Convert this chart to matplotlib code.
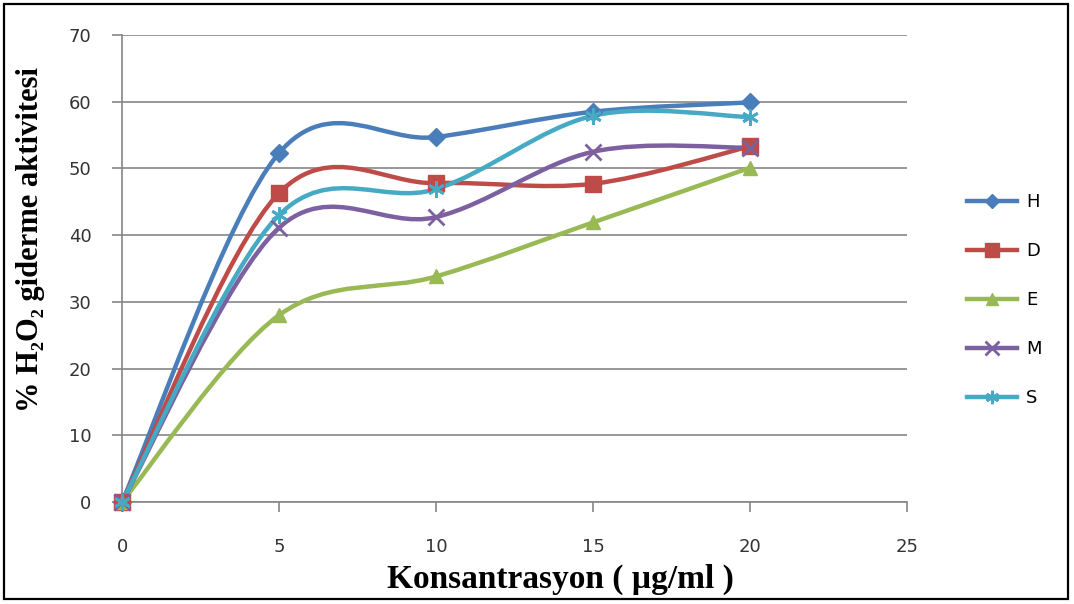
import numpy as np
import matplotlib.pyplot as plt
from matplotlib.path import Path
from matplotlib.patches import PathPatch, Rectangle
from matplotlib.lines import Line2D

# concentration (ug/ml) and % H2O2 scavenging for each extract
conc = [0, 5, 10, 15, 20]
h_vals = [0, 52.3, 54.7, 58.5, 59.9]
d_vals = [0, 46.3, 47.8, 47.7, 53.3]
e_vals = [0, 28.0, 33.8, 41.9, 50.1]
m_vals = [0, 41.1, 42.7, 52.5, 53.1]
s_vals = [0, 43.0, 46.9, 57.9, 57.7]

names = ["H", "D", "E", "M", "S"]
series = [h_vals, d_vals, e_vals, m_vals, s_vals]
colors = ["#4A7EBB", "#BE4B48", "#98B954", "#7D60A0", "#46AAC5"]
markers = ["D", "s", "^", "x", (6, 2, 0)]
msizes = [9, 12, 10, 12, 12]

serif = ["Liberation Serif", "DejaVu Serif"]


# smooth curve through the points, Catmull-Rom segments as cubic Beziers
def smooth_path(xs, ys):
    pts = np.column_stack([xs, ys]).astype(float)
    n = len(pts)
    verts = [pts[0]]
    codes = [Path.MOVETO]
    for i in range(n - 1):
        p0 = pts[max(i - 1, 0)]
        p1 = pts[i]
        p2 = pts[i + 1]
        p3 = pts[min(i + 2, n - 1)]
        c1 = p1 + (p2 - p0) / 6.0
        c2 = p2 - (p3 - p1) / 6.0
        verts += [c1, c2, p2]
        codes += [Path.CURVE4] * 3
    return Path(verts, codes)


fig = plt.figure(figsize=(10.74, 6.04), dpi=100)
ax = fig.add_axes([0.1136, 0.169, 0.7309, 0.773])

for vals, name, col, mk, ms in zip(series, names, colors, markers, msizes):
    patch = PathPatch(smooth_path(conc, vals), facecolor="none", edgecolor=col,
                      lw=3.2, capstyle="round", zorder=3)
    ax.add_patch(patch)
    mew = 2 if mk in ("x", (6, 2, 0)) else 1
    ax.plot(conc, vals, linestyle="none", marker=mk, markersize=ms, color=col,
            markeredgecolor=col, markeredgewidth=mew, clip_on=False, zorder=4)

ax.set_xlim(0, 25)
ax.set_ylim(0, 70)
ax.set_xticks(range(0, 26, 5))
ax.set_yticks(range(0, 71, 10))
ax.yaxis.grid(True, color="#868686", lw=1.2)
ax.set_axisbelow(True)
for side in ("top", "right"):
    ax.spines[side].set_visible(False)
for side in ("left", "bottom"):
    ax.spines[side].set_color("#868686")
    ax.spines[side].set_linewidth(1.2)
ax.tick_params(axis="both", direction="out", length=7, width=1.2, color="#868686",
               labelsize=13, labelcolor="#333333")
ax.tick_params(axis="x", pad=19)
ax.tick_params(axis="y", pad=15)

ax.set_xlabel("Konsantrasyon ( µg/ml )", family=serif, fontweight="bold",
              fontsize=24, va="center")
ax.xaxis.set_label_coords(0.559, -0.166)
ax.set_ylabel("% H₂O₂ giderme aktivitesi", family=serif,
              fontweight="bold", fontsize=22, va="center")
ax.yaxis.set_label_coords(-0.117, 0.563)

handles = [Line2D([], [], color=c, lw=3.2, marker=m, markersize=s * 0.8,
                  markeredgewidth=2 if m in ("x", (6, 2, 0)) else 1)
           for c, m, s in zip(colors, markers, msizes)]
fig.legend(handles, names, loc="center left", bbox_to_anchor=(0.885, 0.503),
           frameon=False, fontsize=13, handlelength=2.8, labelspacing=1.72,
           handletextpad=0.5)

fig.add_artist(Rectangle((0.004, 0.008), 0.99, 0.985, transform=fig.transFigure,
                         fill=False, edgecolor="black", lw=1.6))

fig.savefig("out.png", dpi=100)
